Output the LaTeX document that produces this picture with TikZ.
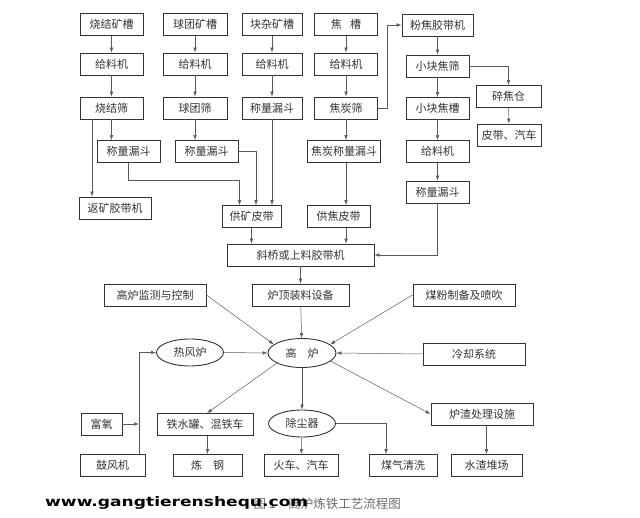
\documentclass[tikz,border=0pt]{standalone}
\usepackage{fontspec}
\usepackage{graphicx}
\usepackage{tikz}
\usetikzlibrary{arrows.meta,positioning,shapes.geometric}
\newfontfamily\cjk{Noto Sans CJK SC}
\newfontfamily\markfont{DejaVu Sans}
\definecolor{flowink}{HTML}{333333}
\definecolor{lineink}{HTML}{5A5A5A}
\definecolor{capgray}{HTML}{6A6A6A}
\tikzset{
  >={Latex[length=5pt,width=3.6pt]},
  procbox/.style={draw=flowink,line width=0.9pt,minimum height=22pt,inner sep=1pt,
                  font=\cjk\fontsize{11}{13}\selectfont,text=flowink},
  ovalnode/.style={ellipse,draw=flowink,line width=0.9pt,inner sep=0pt,
                   font=\cjk\fontsize{11}{13}\selectfont,text=flowink},
  flowline/.style={->,line width=0.5pt,draw=lineink},
}
\begin{document}
\begin{tikzpicture}[x=1pt,y=-1pt]
  \useasboundingbox (0,0) rectangle (640,518);
  \node[procbox,minimum width=63pt] (sjkc) at (111.5,24.5) {烧结矿槽};
  \node[procbox,minimum width=64pt] (qtkc) at (195,24.5) {球团矿槽};
  \node[procbox,minimum width=60pt] (kzkc) at (272,24.5) {块杂矿槽};
  \node[procbox,minimum width=63pt] (jc) at (346,24.5) {焦\hspace{0.75em}槽};
  \node[procbox,minimum width=71pt] (fjjd) at (437.5,25) {粉焦胶带机};
  \node[procbox,minimum width=63pt] (gl1) at (111.5,64) {给料机};
  \node[procbox,minimum width=64pt] (gl2) at (195,64) {给料机};
  \node[procbox,minimum width=60pt] (gl3) at (272,64) {给料机};
  \node[procbox,minimum width=63pt] (gl4) at (346,64) {给料机};
  \node[procbox,minimum width=63pt] (xkjs) at (437.5,66) {小块焦筛};
  \node[procbox,minimum width=63pt] (sjs) at (111.5,108) {烧结筛};
  \node[procbox,minimum width=64pt] (qts) at (195,108) {球团筛};
  \node[procbox,minimum width=60pt] (kzld) at (272,108) {称量漏斗};
  \node[procbox,minimum width=63pt] (jts) at (346,108) {焦炭筛};
  \node[procbox,minimum width=63pt] (xkjc) at (437.5,108.5) {小块焦槽};
  \node[procbox,minimum width=65pt] (sjc) at (508.5,96.5) {碎焦仓};
  \node[procbox,minimum width=64pt] (pdqc) at (509,135) {皮带、汽车};
  \node[procbox,minimum width=63pt] (sjld) at (128.5,151.5) {称量漏斗};
  \node[procbox,minimum width=63pt] (qtld) at (206.5,151.5) {称量漏斗};
  \node[procbox,minimum width=73pt] (jtld) at (344,151.5) {焦炭称量漏斗};
  \node[procbox,minimum width=63pt] (gl5) at (437.5,151.5) {给料机};
  \node[procbox,minimum width=63pt] (xkld) at (437.5,192) {称量漏斗};
  \node[procbox,minimum width=72pt] (fkjd) at (115,208) {返矿胶带机};
  \node[procbox,minimum width=59pt] (gkpd) at (251.5,216.5) {供矿皮带};
  \node[procbox,minimum width=63pt] (gjpd) at (338.5,216.5) {供焦皮带};
  \node[procbox,minimum width=147pt] (xqjd) at (300.5,255) {斜桥或上料胶带机};
  \node[procbox,minimum width=97pt] (ldzl) at (300.5,295) {炉顶装料设备};
  \node[procbox,minimum width=102pt] (gljc) at (155,295) {高炉监测与控制};
  \node[procbox,minimum width=102pt] (mfpc) at (464,295) {煤粉制备及喷吹};
  \node[ovalnode,minimum width=68pt,minimum height=29pt] (gaolu) at (302,353) {高\quad 炉};
  \node[ovalnode,minimum width=67pt,minimum height=27pt] (rfl) at (190,352.5) {热风炉};
  \node[procbox,minimum width=102pt] (lqxt) at (474,354) {冷却系统};
  \node[procbox,minimum width=41pt] (fuyang) at (101.5,424) {富氧};
  \node[procbox,minimum width=65pt] (gfj) at (112.5,465.5) {鼓风机};
  \node[procbox,minimum width=96pt] (tsg) at (205,424.5) {铁水罐、混铁车};
  \node[procbox,minimum width=69pt] (liangang) at (207.5,465.5) {炼\quad 钢};
  \node[ovalnode,minimum width=67pt,minimum height=27pt] (ccq) at (302,423.5) {除尘器};
  \node[procbox,minimum width=74pt] (hcqc) at (301,465.5) {火车、汽车};
  \node[procbox,minimum width=68pt] (mqqx) at (403,465.5) {煤气清洗};
  \node[procbox,minimum width=102pt] (lzcl) at (482,414) {炉渣处理设施};
  \node[procbox,minimum width=71pt] (szdc) at (486.5,465.5) {水渣堆场};
  \foreach \a/\b in {sjkc/gl1,gl1/sjs,qtkc/gl2,gl2/qts,kzkc/gl3,gl3/kzld,jc/gl4,gl4/jts,
                     fjjd/xkjs,xkjs/xkjc,xkjc/gl5,gl5/xkld,sjc/pdqc,xqjd/ldzl,ldzl/gaolu,
                     gaolu/ccq,ccq/hcqc}{ \draw[flowline] (\a) -- (\b); }
  \coordinate (fkout) at ([xshift=-19.5pt]sjs.south);
  \draw[flowline] (fkout) -- (fkout |- fkjd.north);
  \draw[flowline] (sjs.south) -- (sjs.south |- sjld.north);
  \draw[flowline] (qts.south) -- (qts.south |- qtld.north);
  \draw[flowline] (kzld.south) -- (kzld.south |- gkpd.north);
  \draw[flowline] (sjld.south) -- ++(0,17) -| ([xshift=-12pt]gkpd.north);
  \draw[flowline] (qtld.east) -| ([xshift=4.5pt]gkpd.north);
  \draw[flowline] (jts.south) -- (jts.south |- jtld.north);
  \draw[flowline] (jts.south |- jtld.south) -- (jts.south |- gjpd.north);
  \draw[flowline] (jts.east) -- ++(9,0) |- (fjjd.west);
  \draw[flowline] (xkjs.east) -| (sjc.north);
  \draw[flowline] (xkld.south) |- (xqjd.east);
  \draw[flowline] (gkpd.south) -- (gkpd.south |- xqjd.north);
  \draw[flowline] (jts.south |- gjpd.south) -- (jts.south |- xqjd.north);
  \draw[flowline] (gljc.east) -- (gaolu.163);
  \draw[flowline] (mfpc.west) -- (gaolu.17);
  \draw[flowline] (lqxt.west) -- (gaolu.east);
  \draw[flowline] (rfl.east) -- (gaolu.west);
  \coordinate (fengkou) at ([xshift=26.5pt]gfj.north);
  \draw[flowline] (fengkou) |- (rfl.west);
  \draw[flowline] (fuyang.east) -- (fuyang.east -| fengkou);
  \draw[flowline] (gaolu.202) -- ([xshift=2pt]tsg.north);
  \draw[flowline] (gaolu.344) -- (lzcl.west);
  \draw[flowline] (ccq.east) -| ([xshift=-17pt]mqqx.north);
  \draw[flowline] (szdc.north |- lzcl.south) -- (szdc.north);
  \draw[flowline] (liangang.north |- tsg.south) -- (liangang.north);
  \node[font=\cjk\fontsize{12.5}{14}\selectfont,text=capgray,anchor=base east,inner sep=0pt] (tuming) at (401,508) {图 1\quad 高炉炼铁工艺流程图};
  \node[anchor=base west,inner sep=0pt] (wangzhi) at (45,507) {\resizebox{263pt}{10pt}{\markfont\bfseries www.gangtierenshequ.com}};
\end{tikzpicture}
\end{document}
